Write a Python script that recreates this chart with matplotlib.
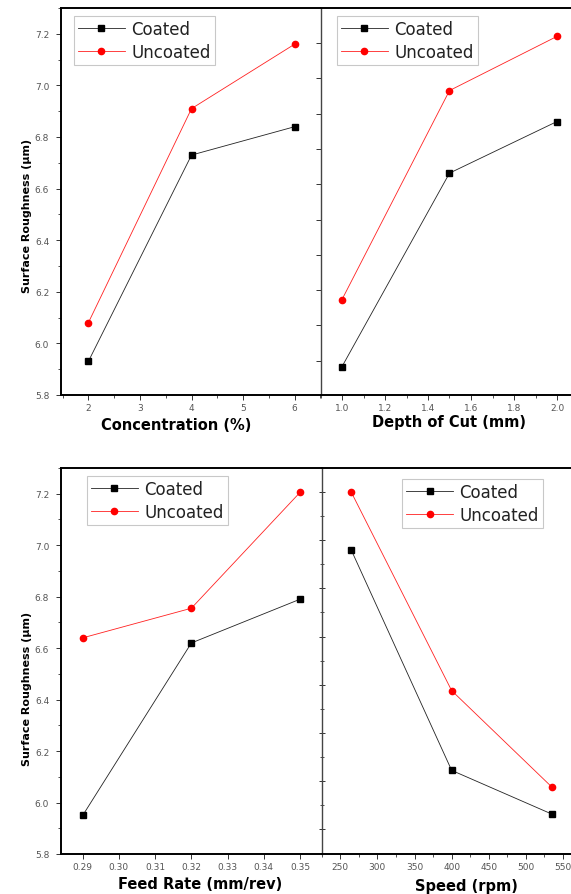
import numpy as np
import matplotlib
matplotlib.use("Agg")
import matplotlib.pyplot as plt
from matplotlib.ticker import MultipleLocator, FixedLocator, FormatStrFormatter

# ---- data ----
conc = [2, 4, 6]
conc_coated = [5.93, 6.73, 6.84]
conc_uncoated = [6.08, 6.91, 7.16]

doc = [1.0, 1.5, 2.0]
doc_coated = [5.91, 6.66, 6.86]
doc_uncoated = [6.17, 6.98, 7.19]

feed = [0.29, 0.32, 0.35]
feed_coated = [5.95, 6.62, 6.79]
feed_uncoated = [6.64, 6.755, 7.205]
feed_ticks = [0.29, 0.30, 0.31, 0.32, 0.33, 0.34, 0.35]
feed_ticklabels = ["0.29", "0.30", "0.31", "0.32", "0.33", "0.34", "0.35"]

speed = [265, 400, 535]
speed_coated = [6.98, 6.125, 5.955]
speed_uncoated = [7.205, 6.435, 6.06]

ylabel = "Surface Roughness (\u03bcm)"
labels = ["Coated", "Uncoated"]

W, H = 571, 895
fig = plt.figure(figsize=(W / 100, H / 100), dpi=100)


def rect(x0, x1, ytop, ybot):
    return [x0 / W, 1 - ybot / H, (x1 - x0) / W, (ybot - ytop) / H]


TICKCOL = "#555555"


def style_common(ax):
    for s in ["top", "bottom", "left"]:
        ax.spines[s].set_linewidth(1.4)
        ax.spines[s].set_color("black")
    ax.spines["right"].set_visible(False)
    ax.tick_params(axis="both", which="major", direction="out", length=3.5,
                   width=0.7, labelsize=6.5, labelcolor=TICKCOL, color="#333333", pad=2)
    ax.tick_params(axis="y", which="major", pad=5)
    ax.tick_params(axis="both", which="minor", direction="out", length=2,
                   width=0.6, color="#333333")
    ax.tick_params(top=False, right=False, which="both")


def plot_series(ax, x, yc, yu):
    ax.plot(x, yc, color="#222222", lw=0.6, marker="s", ms=4, mfc="black",
            mec="black", label=labels[0])
    ax.plot(x, yu, color="#ff2020", lw=0.6, marker="o", ms=4.5, mfc="red",
            mec="red", label=labels[1])


def legend(ax, x0, ytop):
    leg = ax.legend(loc="upper left", bbox_to_anchor=(x0 / W, 1 - ytop / H),
                    bbox_transform=fig.transFigure, fontsize=12, frameon=True,
                    fancybox=False, edgecolor="#bbbbbb", handlelength=2.8,
                    handletextpad=0.4, borderpad=0.25, labelspacing=0.3,
                    borderaxespad=0)
    leg.get_frame().set_linewidth(0.8)
    for t in leg.get_texts():
        t.set_color("#222222")


XLFONT = dict(fontsize=10.5, fontweight="bold", family="DejaVu Sans")
YLFONT = dict(fontsize=8, fontweight="bold", family="DejaVu Sans")

# ---- top-left ----
ax1 = fig.add_axes(rect(61, 320.5, 9, 396))
plot_series(ax1, conc, conc_coated, conc_uncoated)
ax1.set_xlim(1.47, 6.5)
ax1.set_ylim(5.8, 7.3)
style_common(ax1)
ax1.xaxis.set_major_locator(MultipleLocator(1))
ax1.xaxis.set_minor_locator(MultipleLocator(0.5))
ax1.yaxis.set_major_locator(FixedLocator(np.arange(5.8, 7.25, 0.2)))
ax1.yaxis.set_minor_locator(MultipleLocator(0.1))
ax1.yaxis.set_major_formatter(FormatStrFormatter("%.1f"))
ax1.set_xlabel("Concentration (%)", **XLFONT)
ax1.xaxis.set_label_coords(0.444, -0.058)
ax1.set_ylabel(ylabel, **YLFONT)
ax1.yaxis.set_label_coords(-0.112, 0.465)
ax1.set_zorder(1)
legend(ax1, 74, 17)

# ---- top-right ----
ax2 = fig.add_axes(rect(320.5, 578.5, 9, 396))
plot_series(ax2, doc, doc_coated, doc_uncoated)
ax2.set_xlim(0.9, 2.1)
ax2.set_ylim(5.8, 7.3)
style_common(ax2)
ax2.spines["left"].set_linewidth(1.0)
ax2.spines["left"].set_color("#444444")
ax2.xaxis.set_major_locator(MultipleLocator(0.2))
ax2.xaxis.set_minor_locator(MultipleLocator(0.1))
ax2.xaxis.set_major_formatter(FormatStrFormatter("%.1f"))
ax2.yaxis.set_major_locator(FixedLocator(np.arange(5.933, 7.2, 0.1368)))
ax2.yaxis.set_minor_locator(FixedLocator([]))
ax2.tick_params(axis="y", labelleft=False, length=3.5)
ax2.set_xlabel("Depth of Cut (mm)", **XLFONT)
ax2.xaxis.set_label_coords(0.5, -0.05)
ax2.set_zorder(2)
legend(ax2, 336.7, 17)

# ---- bottom-left ----
ax3 = fig.add_axes(rect(61, 321.7, 469, 855))
plot_series(ax3, feed, feed_coated, feed_uncoated)
ax3.set_xlim(0.284, 0.356)
ax3.set_ylim(5.8, 7.3)
style_common(ax3)
ax3.set_xticks(feed_ticks)
ax3.set_xticklabels(feed_ticklabels)
ax3.xaxis.set_minor_locator(FixedLocator([]))
ax3.yaxis.set_major_locator(FixedLocator(np.arange(5.8, 7.25, 0.2)))
ax3.yaxis.set_minor_locator(MultipleLocator(0.1))
ax3.yaxis.set_major_formatter(FormatStrFormatter("%.1f"))
ax3.set_xlabel("Feed Rate (mm/rev)", **XLFONT)
ax3.xaxis.set_label_coords(0.533, -0.058)
ax3.set_ylabel(ylabel, **YLFONT)
ax3.yaxis.set_label_coords(-0.11, 0.43)
ax3.set_zorder(1)
legend(ax3, 86.7, 476.7)

# ---- bottom-right ----
ax4 = fig.add_axes(rect(321.7, 581.6, 469, 855))
plot_series(ax4, speed, speed_coated, speed_uncoated)
ax4.set_xlim(225, 575)
ax4.set_ylim(5.8, 7.3)
style_common(ax4)
ax4.spines["left"].set_linewidth(1.0)
ax4.spines["left"].set_color("#444444")
ax4.xaxis.set_major_locator(MultipleLocator(50))
ax4.xaxis.set_minor_locator(MultipleLocator(25))
ax4.yaxis.set_major_locator(FixedLocator(np.arange(5.897, 7.25, 0.187)))
ax4.yaxis.set_minor_locator(FixedLocator(np.arange(5.9905, 7.25, 0.187)))
ax4.tick_params(axis="y", which="both", labelleft=False, direction="inout")
ax4.tick_params(axis="y", which="major", length=4)
ax4.tick_params(axis="y", which="minor", length=2.5)
ax4.set_xlabel("Speed (rpm)", **XLFONT)
ax4.xaxis.set_label_coords(0.556, -0.062)
ax4.set_zorder(2)
legend(ax4, 402, 480)

fig.savefig("out.png", dpi=100)
